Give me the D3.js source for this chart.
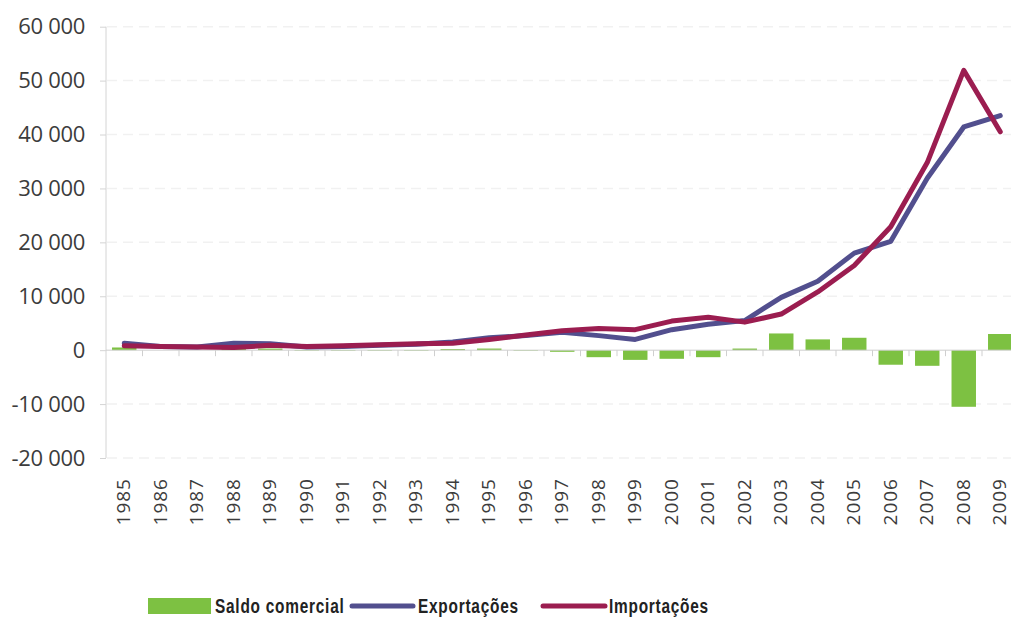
<!DOCTYPE html>
<html>
<head>
<meta charset="utf-8">
<script src="https://cdn.jsdelivr.net/npm/d3@7"></script>
<style>
  html, body { margin: 0; padding: 0; background: #fff; }
  svg { display: block; }
</style>
</head>
<body>
<svg id="chart" width="1011" height="623"></svg>
<script>
// Trade in millions, 1985–2009
const years = ["1985","1986","1987","1988","1989","1990","1991","1992","1993","1994","1995","1996","1997","1998","1999","2000","2001","2002","2003","2004","2005","2006","2007","2008","2009"];
const exportacoes = [1300, 700, 600, 1300, 1200, 600, 700, 900, 1100, 1500, 2300, 2700, 3300, 2700, 2000, 3800, 4800, 5500, 9800, 12800, 18000, 20200, 31900, 41400, 43500];
const importacoes = [800, 700, 600, 500, 900, 700, 800, 1000, 1200, 1300, 2000, 2800, 3600, 4000, 3800, 5400, 6100, 5200, 6700, 10800, 15700, 22900, 34800, 51900, 40500];
const saldo = [500, 0, 0, 800, 300, -100, -100, -100, -100, 200, 300, -100, -300, -1300, -1800, -1600, -1300, 300, 3100, 2000, 2300, -2700, -2900, -10500, 3000];
const yTicks = [60000, 50000, 40000, 30000, 20000, 10000, 0, -10000, -20000];
const legendLabels = ["Saldo comercial", "Exportações", "Importações"];

const colors = { saldo: "#7dc142", exp: "#524f8e", imp: "#9b1d50" };

const svg = d3.select("#chart");

const STEP = 36.5, LEFT = 106;
const x = d3.scaleBand().domain(years).range([LEFT, LEFT + 25 * STEP]).paddingInner(0.33).paddingOuter(0.165);
const xc = d => x(d) + x.bandwidth() / 2;
const y = d3.scaleLinear().domain([-20000, 60000]).range([458, 26.7]);

const fmt = v => {
  const s = d3.format(",")(Math.abs(v)).replace(/,/g, " ");
  return (v < 0 ? "-" : "") + s;
};

// faint dashed gridlines
svg.append("g")
  .selectAll("line")
  .data(yTicks.filter(v => v !== 0))
  .join("line")
  .attr("x1", LEFT + 1).attr("x2", 1011)
  .attr("y1", d => y(d)).attr("y2", d => y(d))
  .attr("stroke", "#f1f1f1")
  .attr("stroke-width", 1.5)
  .attr("stroke-dasharray", "10,6");

// y axis
const yAxis = svg.append("g")
  .attr("transform", `translate(${LEFT},0)`)
  .call(d3.axisLeft(y).tickValues(yTicks).tickFormat(fmt).tickSize(6).tickPadding(15));
yAxis.select(".domain").attr("stroke", "#d4d4d4").attr("d", `M0,${y(60000)}V${y(-20000)}`);
yAxis.selectAll(".tick line").attr("stroke", "#d4d4d4");
yAxis.selectAll(".tick text")
  .attr("fill", "#3c3c3c")
  .style("font-family", "'Open Sans', sans-serif")
  .style("font-size", "22px")
  .style("letter-spacing", "-0.3px");

// bars for trade balance
svg.append("g")
  .selectAll("rect")
  .data(years.map((yr, i) => ({ yr, v: saldo[i] })))
  .join("rect")
  .attr("x", d => x(d.yr))
  .attr("width", x.bandwidth())
  .attr("y", d => y(Math.max(0, d.v)))
  .attr("height", d => Math.abs(y(d.v) - y(0)))
  .attr("fill", colors.saldo);

// zero axis with category separators
const xAxisG = svg.append("g").attr("transform", `translate(0,${y(0)})`);
xAxisG.append("line")
  .attr("x1", LEFT).attr("x2", 1011)
  .attr("stroke", "#cfcfcf").attr("stroke-width", 1);
const step = x.step();
xAxisG.selectAll("line.sep")
  .data(d3.range(1, 26))
  .join("line")
  .attr("class", "sep")
  .attr("x1", i => LEFT + i * step).attr("x2", i => LEFT + i * step)
  .attr("y1", 0).attr("y2", 6)
  .attr("stroke", "#cfcfcf");

// year labels, rotated
svg.append("g")
  .selectAll("text")
  .data(years)
  .join("text")
  .attr("transform", d => `translate(${xc(d) - 1},478) rotate(-90)`)
  .attr("text-anchor", "end")
  .attr("dy", "0.36em")
  .attr("fill", "#3c3c3c")
  .style("font-family", "'Open Sans', sans-serif")
  .style("font-size", "19px")
  .style("letter-spacing", "1px")
  .text(d => d);

// series lines
const line = d3.line().x((d, i) => xc(years[i])).y(d => y(d));
svg.append("path")
  .datum(exportacoes)
  .attr("d", line)
  .attr("fill", "none")
  .attr("stroke", colors.exp)
  .attr("stroke-width", 5)
  .attr("stroke-linejoin", "round")
  .attr("stroke-linecap", "round");
svg.append("path")
  .datum(importacoes)
  .attr("d", line)
  .attr("fill", "none")
  .attr("stroke", colors.imp)
  .attr("stroke-width", 5)
  .attr("stroke-linejoin", "round")
  .attr("stroke-linecap", "round");

// legend (condensed, letter-spaced labels)
const lg = svg.append("g").attr("transform", "translate(0,606)");
lg.append("rect").attr("x", 148).attr("y", -8).attr("width", 63).attr("height", 16).attr("fill", colors.saldo);
lg.append("line").attr("x1", 352).attr("x2", 413).attr("stroke", colors.exp).attr("stroke-width", 5).attr("stroke-linecap", "round");
lg.append("line").attr("x1", 543).attr("x2", 605).attr("stroke", colors.imp).attr("stroke-width", 5).attr("stroke-linecap", "round");
const legendX = [215, 418, 609];
lg.selectAll("text")
  .data(legendLabels)
  .join("text")
  .attr("transform", (d, i) => `translate(${legendX[i]},0) scale(0.77,1)`)
  .attr("dy", "0.36em")
  .attr("fill", "#222")
  .style("font-family", "'Liberation Sans', Arial, sans-serif")
  .style("font-weight", "bold")
  .style("font-size", "20px")
  .style("letter-spacing", "1px")
  .text(d => d);
</script>
</body>
</html>
